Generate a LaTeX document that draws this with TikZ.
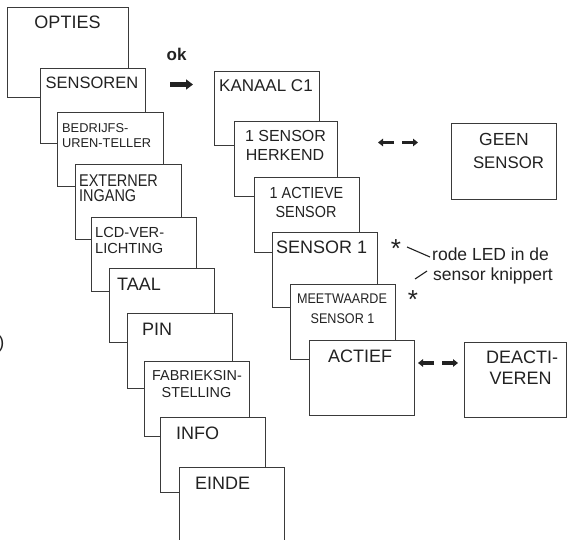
\documentclass[tikz,border=0pt]{standalone}
\usepackage{fontspec}
\setmainfont{Liberation Sans}
\usetikzlibrary{arrows.meta}
\definecolor{ln}{HTML}{3A3A3A}
\definecolor{tx}{HTML}{222222}
\newcommand{\fs}[1]{\fontsize{#1}{#1}\selectfont}
\newcommand{\cx}[2]{\scalebox{#1}[1]{#2}}
\tikzset{
  box/.style={draw=ln, line width=1.1pt, fill=white, inner sep=0pt, anchor=north west},
  bw/.style={minimum width=105pt, minimum height=75pt},
  tb/.style={inner sep=0pt, text=tx, anchor=base, font=\fs{#1}},
  tw/.style={inner sep=0pt, text=tx, anchor=base west, font=\fs{#1}},
  fat/.style={draw=tx, line width=5pt, -{Triangle[length=7pt,width=10pt]}},
  thin/.style={draw=tx, line width=3.5pt, -{Triangle[length=5pt,width=7.5pt]}},
  ann/.style={draw=tx, line width=1.1pt}
}
\begin{document}
\begin{tikzpicture}[x=1pt,y=-1pt]
\useasboundingbox (0,0) rectangle (567,540);
\clip (0,0) rectangle (567,540);
% left column
\node[box, minimum width=121pt, minimum height=90pt] (opties) at (7,7) {};
\node[tb=18] (t1) at (67.5,29) {OPTIES};
\node[box, bw] (sensoren) at (40,68) {};
\node[tb=16.5] (t2) at (92,89) {SENSOREN};
\node[box, bw, minimum width=106pt, minimum height=74pt] (bedrijfs) at (57,112) {};
\node[tw=12.8] (t3a) at (62,133) {BEDRIJFS-};
\node[tw=12.8] (t3b) at (62,148) {UREN-TELLER};
\node[box, bw, minimum width=106pt] (externer) at (75,164) {};
\node[tw=17] (t4a) at (79,186) {\cx{0.85}{EXTERNER}};
\node[tw=17] (t4b) at (79,201.5) {\cx{0.85}{INGANG}};
\node[box, bw, minimum height=74pt] (lcd) at (91,217) {};
\node[tw=14.6] (t5a) at (95,237) {LCD-VER-};
\node[tw=14.6] (t5b) at (95,253) {LICHTING};
\node[box, bw, minimum height=74pt] (taal) at (109,268) {};
\node[tw=18] (t6) at (117,290) {TAAL};
\node[box, bw] (pin) at (127,313) {};
\node[tw=18] (t7) at (142,335) {PIN};
\node[box, bw] (fabrieks) at (144,361) {};
\node[tb=14.4] (t8a) at (197,380) {FABRIEKSIN-};
\node[tb=14.4] (t8b) at (196.5,397) {STELLING};
\node[box, bw] (info) at (160,417) {};
\node[tw=18] (t9) at (176,439) {INFO};
\node[box, bw, minimum height=85pt] (einde) at (179,467) {};
\node[tw=18] (t10) at (195,489) {EINDE};
% ok arrow
\node[tw=17, font=\fs{17}\bfseries] (ok) at (166.5,61) {ok};
\coordinate (okA) at (170,84.5);
\coordinate (okB) at (193,84.5);
\draw[fat] (okA) -- (okB);
% right column
\node[box, bw, minimum height=74pt] (kanaal) at (214,71) {};
\node[tw=17] (r1) at (219,92) {KANAAL C1};
\node[box, bw, minimum width=103pt] (herkend) at (234,121) {};
\node[tb=16] (r2a) at (285.5,142) {1 SENSOR};
\node[tb=16] (r2b) at (285,161) {HERKEND};
\node[box, bw] (actieve) at (254,177) {};
\node[tb=16] (r3a) at (306.5,198) {\cx{0.9}{1 ACTIEVE}};
\node[tb=16] (r3b) at (306,217) {\cx{0.9}{SENSOR}};
\node[box, bw] (sensor1) at (272,232) {};
\node[tw=18] (r4) at (276,253) {SENSOR 1};
\node[box, bw] (meet) at (290,284) {};
\node[tb=14] (r5a) at (342,303) {\cx{0.9}{MEETWAARDE}};
\node[tb=14] (r5b) at (342.5,323) {\cx{0.9}{SENSOR 1}};
\node[box, bw] (actief) at (309,340) {};
\node[tb=18] (r6) at (360,362) {ACTIEF};
% side boxes
\node[box, bw, minimum height=76pt] (geen) at (451,123) {};
\node[tb=17.5] (g1) at (504,146) {GEEN};
\node[tb=16.8] (g2) at (508.5,168) {SENSOR};
\node[box, bw, minimum width=102pt] (deacti) at (464,342) {};
\node[tb=18] (d1) at (522,363) {DEACTI-};
\node[tb=18] (d2) at (520.5,384) {VEREN};
% double arrows
\coordinate (hA) at (394,142.5);
\coordinate (hL) at (378,142.5);
\coordinate (hB) at (402,142.5);
\coordinate (hR) at (418,142.5);
\draw[thin] (hA) -- (hL);
\draw[thin] (hB) -- (hR);
\coordinate (aA) at (434,363);
\coordinate (aL) at (418,363);
\coordinate (aB) at (442,363);
\coordinate (aR) at (458,363);
\draw[thin] (aA) -- (aL);
\draw[thin] (aB) -- (aR);
% annotation
\node[tb=26] (st1) at (396,257) {*};
\node[tb=26] (st2) at (413,308) {*};
\coordinate (l1a) at (407,247);
\coordinate (l1b) at (430,257);
\coordinate (l2a) at (415,279);
\coordinate (l2b) at (427,271);
\draw[ann] (l1a) -- (l1b);
\draw[ann] (l2a) -- (l2b);
\node[tw=17.5] (n1) at (432,260) {rode LED in de};
\node[tw=17.5] (n2) at (433,280) {sensor knippert};
% partial parenthesis at left edge
\node[inner sep=0pt, text=tx, anchor=base east, font=\fs{18}] (paren) at (4.5,348) {)};
\end{tikzpicture}
\end{document}
